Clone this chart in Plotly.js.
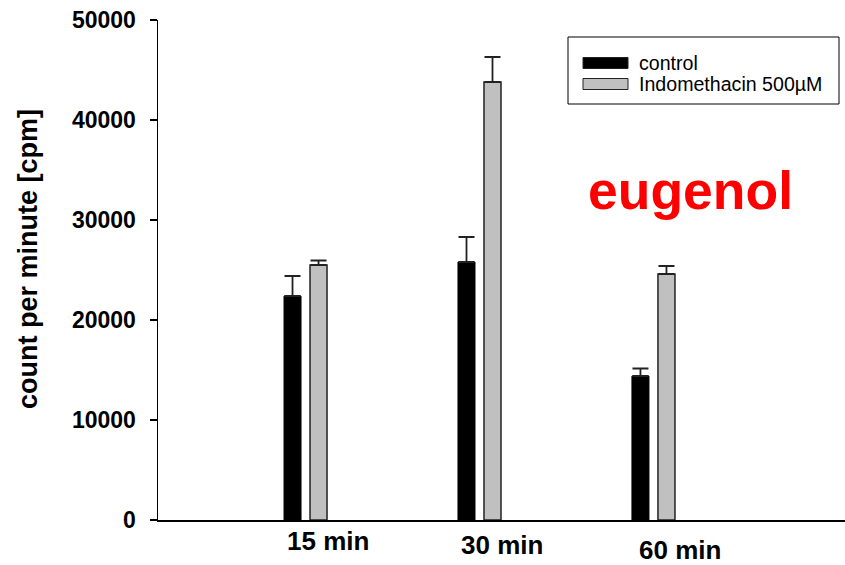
<!DOCTYPE html>
<html>
<head>
<meta charset="utf-8">
<script src="https://cdn.plot.ly/plotly-3.0.1.min.js"></script>
<style>html,body{margin:0;padding:0;background:#fff}#chart{width:845px;height:565px}</style>
</head>
<body>
<div id="chart"></div>
<script>
// ---- data ----
const categories = ["15 min", "30 min", "60 min"];
const controlValues = [22400, 25800, 14400];
const controlErrors = [2000, 2500, 750];
const indoValues = [25500, 43800, 24600];
const indoErrors = [450, 2500, 800];
const noErrors = [0, 0, 0];
const seriesNames = ["control", "Indomethacin 500µM"];
const yTicks = [0, 10000, 20000, 30000, 40000, 50000];
const yTickLabels = ["0", "10000", "20000", "30000", "40000", "50000"];
const yTitle = "count per minute [cpm]";
const noteText = "eugenol";

// ---- layout helpers (pixel -> paper) ----
const L = 158, R = 845, T = 20, B = 520;
const W = R - L, H = B - T;
const px = p => (p - L) / W;
const py = p => (B - p) / H;

const FONT = "Liberation Sans, Arial, Helvetica, sans-serif";

const traces = [
  {
    type: "bar", name: seriesNames[0], x: categories, y: controlValues,
    marker: {color: "#000000", line: {color: "#000000", width: 1}},
    error_y: {type: "data", symmetric: false, array: controlErrors, arrayminus: noErrors,
              color: "#222222", thickness: 1.8, width: 8},
    showlegend: false, hoverinfo: "x+y"
  },
  {
    type: "bar", name: seriesNames[1], x: categories, y: indoValues,
    marker: {color: "#c0c0c0", line: {color: "#222222", width: 1.5}},
    error_y: {type: "data", symmetric: false, array: indoErrors, arrayminus: noErrors,
              color: "#222222", thickness: 1.8, width: 8},
    showlegend: false, hoverinfo: "x+y"
  }
];

const catShift = [-21, -20, -16];
const catYShift = [-21, -25, -30];
const annotations = categories.map((c, i) => ({
  text: "<b>" + c + "</b>", x: c, xref: "x", y: 0, yref: "paper",
  xanchor: "left", yanchor: "middle", xshift: catShift[i], yshift: catYShift[i],
  showarrow: false, font: {family: FONT, size: 26, color: "#000"}
}));

annotations.push({
  text: "<b>" + yTitle + "</b>", xref: "paper", yref: "paper",
  x: px(28), y: py(259), xanchor: "center", yanchor: "middle",
  textangle: -90, showarrow: false, font: {family: FONT, size: 27, color: "#000"}
});

annotations.push({
  text: "<b>" + noteText + "</b>", xref: "paper", yref: "paper",
  x: px(690), y: py(191), xanchor: "center", yanchor: "middle",
  showarrow: false, font: {family: FONT, size: 53.5, color: "#ff0000"}
});

// custom legend
const legendColors = ["#000000", "#c0c0c0"];
const legendRowY = [63, 84];
legendRowY.forEach((ry, i) => {
  annotations.push({
    text: seriesNames[i], xref: "paper", yref: "paper",
    x: px(637), y: py(ry), xanchor: "left", yanchor: "middle",
    showarrow: false, font: {family: FONT, size: 19.6, color: "#000"}
  });
});

const shapes = [
  {type: "rect", xref: "paper", yref: "paper", x0: px(568), x1: px(839), y0: py(37), y1: py(104),
   line: {color: "#000", width: 1}, fillcolor: "rgba(0,0,0,0)"}
];
legendRowY.forEach((ry, i) => {
  shapes.push({type: "rect", xref: "paper", yref: "paper",
    x0: px(583), x1: px(628), y0: py(ry - 5.5), y1: py(ry + 5.5),
    line: {color: "#222", width: 1}, fillcolor: legendColors[i]});
});

const layout = {
  width: 845, height: 565,
  margin: {l: L, r: 845 - R, t: T, b: 565 - B, pad: 0},
  paper_bgcolor: "#ffffff", plot_bgcolor: "#ffffff",
  barmode: "group", bargap: 0.701, bargroupgap: 0.346,
  showlegend: false,
  xaxis: {
    type: "category", range: [-0.848, 3.101], showline: true, linecolor: "#000", linewidth: 1.5,
    ticks: "", showticklabels: false, showgrid: false, zeroline: false, fixedrange: true
  },
  yaxis: {
    range: [0, 50000], tickvals: yTicks, ticktext: yTickLabels,
    showline: true, linecolor: "#000", linewidth: 1.5,
    ticks: "outside", ticklen: 7, tickwidth: 1.2, tickcolor: "#000",
    ticklabelstandoff: 9,
    tickfont: {family: FONT, size: 23, color: "#000", weight: "bold"},
    showgrid: false, zeroline: false, fixedrange: true
  },
  annotations: annotations,
  shapes: shapes
};

Plotly.newPlot("chart", traces, layout, {displayModeBar: false, staticPlot: true});
</script>
</body>
</html>
